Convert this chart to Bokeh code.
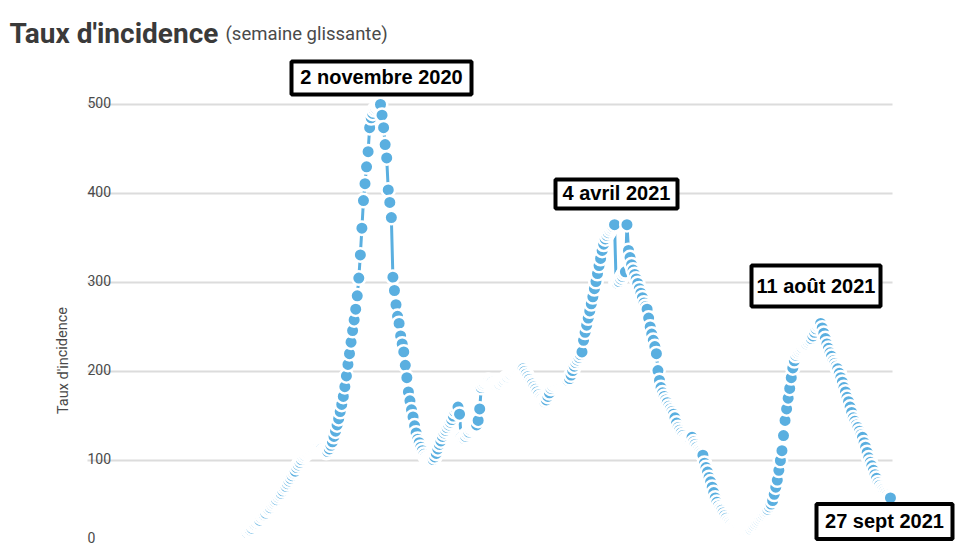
import pandas as pd
from bokeh.plotting import figure
from bokeh.models import Range1d, ColumnDataSource
from bokeh.core.properties import value
from bokeh.embed import file_html
from bokeh.resources import INLINE

# ---------------- data (daily sliding-week incidence rate) ----------------
start_date = "2020-08-08"
rate_aug_sep_2020 = [19, 21, 22, 24, 27, 28, 30, 32, 33, 36, 38, 39, 41, 44, 45, 47, 50, 52,
                     54, 56, 59, 61, 63, 66, 69, 71, 74, 77, 80, 83, 86, 88, 92, 95, 98, 101,
                     104, 106, 108, 109, 110, 111, 112, 113, 114, 115, 115, 114, 113, 111, 110, 109, 110]
rate_oct_2020 = [113, 117, 121, 127, 133, 140, 147, 155, 163, 172, 183, 195, 208, 220, 233, 246, 258,
                 270, 285, 305, 331, 361, 392, 411, 430, 447, 474, 485, 490, 494, 496, 498, 499, 500]
rate_nov_2020 = [488, 474, 455, 440, 404, 390, 373, 306, 291, 275, 262, 254, 240, 231, 222, 207, 193,
                 177, 167, 157, 149, 139, 131, 124, 120]
rate_dec_2020 = [115, 111, 107, 104, 102, 101, 100, 100, 101, 104, 108, 113, 118,
                 122, 127, 131, 134, 137, 140, 143, 146, 150, 155, 158, 160, 152, 126, 124, 125, 127,
                 130, 132, 135, 137, 138, 139, 140, 145, 158]
rate_jan_mar_2021 = [182, 185, 187, 189, 190, 190, 189, 188, 186, 185, 184, 185, 186, 188, 189, 191,
                     193, 194, 196, 197, 199, 200, 201, 202, 203, 204, 204, 203, 200, 197, 194, 191,
                     188, 186, 183, 180, 177, 174, 171, 169, 167, 166, 168, 172, 176, 181, 184, 186,
                     186, 187, 187, 188, 188, 189, 189, 190, 190, 192, 196, 201, 206, 210, 213, 216,
                     219, 222]
rate_mar_jun_2021 = [235, 244, 252, 260, 268, 276, 284, 293, 301, 310, 319, 327, 336, 343, 349, 353,
                     356, 359, 361, 363, 365, 300, 299, 301, 304, 307, 310, 312, 365,
                     336, 328, 320, 314, 309, 304, 299, 293, 288, 283, 277, 273, 270, 260, 250, 242,
                     235, 228, 220, 201, 190, 182, 176, 172, 168, 165, 161, 158, 155, 152, 148, 142,
                     137, 134, 131, 128, 125, 123, 122, 123, 124, 126, 121, 118, 115, 112, 110, 108,
                     106, 97, 92, 87, 81, 76, 70, 64, 58, 53, 49, 46, 44, 41, 38, 35, 32, 30, 28, 26,
                     25, 24, 23, 22, 21, 21, 20, 20, 21, 21, 22, 23, 25]
rate_jul_sep_2021 = [27, 29, 31, 33, 35, 37, 39, 41, 43, 45, 48, 51, 55, 62, 70, 78, 89, 100, 111,
                     128, 145, 158, 170, 181, 193, 204, 212, 218, 221, 223, 225, 227, 229, 230, 231,
                     233, 235, 237, 240, 244, 248, 251, 253,
                     254, 249, 243, 237, 231, 226, 221, 217, 212, 209, 206, 203, 198, 193, 188, 182,
                     177, 171, 166, 160, 154, 148, 144, 140, 137, 133, 129, 126, 120, 115, 109, 103,
                     98, 94, 89, 84, 80, 75, 72, 69, 67, 65, 63, 61, 59, 58]

y_ticks = [0, 100, 200, 300, 400, 500]
y_tick_labels = ["0", "100", "200", "300", "400", "500"]
note_texts = ["2 novembre 2020", "4 avril 2021", "11 août 2021", "27 sept 2021"]

rates = (rate_aug_sep_2020 + rate_oct_2020 + rate_nov_2020 + rate_dec_2020
         + rate_jan_mar_2021 + rate_mar_jun_2021 + rate_jul_sep_2021)
dates = pd.date_range(start_date, periods=len(rates), freq="D")

# ---------------- layout helpers (page pixel -> data) ----------------
DAY_MS = 86400000.0
T0 = pd.Timestamp("2020-11-02").value / 1e6
PX_PER_DAY = 1.55
X0_PAGE = 380.0
Y_ZERO_PAGE = 549.0
PX_PER_UNIT = 0.89


def px_x(px):
    return T0 + (px - X0_PAGE) / PX_PER_DAY * DAY_MS


def px_y(py):
    return (Y_ZERO_PAGE - py) / PX_PER_UNIT


W, H = 958, 546
p = figure(width=W, height=H, output_backend="svg", toolbar_location=None,
           x_range=Range1d(px_x(0), px_x(W)), y_range=Range1d(px_y(H), px_y(0)),
           min_border=0, x_axis_location=None, y_axis_location=None)
p.outline_line_color = None
p.grid.visible = False
p.background_fill_color = "white"
p.border_fill_color = "white"

BLUE = "#5aafe0"
TXT = "#4a4a4a"

# gridlines
n = len(y_ticks)
p.segment(x0=[px_x(87)] * n, x1=[px_x(892)] * n, y0=y_ticks, y1=y_ticks,
          line_color="#dcdcdc", line_width=2)
# tick labels (above lines)
tick_offsets = [-12, -2, -2, -2, -2, -2]
p.text(x=[px_x(87)] * n, y=y_ticks, text=y_tick_labels, text_font=value("Roboto"),
       text_font_size="14px", text_color=TXT, text_baseline="alphabetic", y_offset=tick_offsets)
# y axis title
p.text(x=[px_x(62.5)], y=[px_y(360)], text=["Taux d'incidence"], angle=1.5708,
       text_font=value("Roboto"), text_font_size="14.5px", text_color=TXT,
       text_align="center", text_baseline="middle")

# series
src = ColumnDataSource(dict(date=dates, rate=rates))
p.line("date", "rate", source=src, line_color=BLUE, line_width=3)
p.scatter("date", "rate", source=src, size=13.5, fill_color=BLUE,
          line_color="white", line_width=2.5)

# title
p.text(x=[px_x(9)], y=[px_y(33)], text=["Taux d'incidence"], text_font=value("Roboto"),
       text_font_style="bold", text_font_size="28px", text_color="#3a3a3a",
       text_baseline="alphabetic")
p.text(x=[px_x(225)], y=[px_y(33)], text=["(semaine glissante)"], text_font=value("Roboto"),
       text_font_size="18.5px", text_color=TXT, text_baseline="alphabetic")

# annotation boxes
box_cx = [381, 616, 815.5, 884]
box_cy = [77.5, 193.5, 285.5, 521]
box_w = [180, 122, 129, 136]
box_h = [33, 29, 41, 35]
text_cy = [76, 192, 285, 520]
p.rect(x=[px_x(v) for v in box_cx], y=[px_y(v) for v in box_cy], width=box_w, height=box_h,
       width_units="screen", height_units="screen", fill_color="white",
       line_color="black", line_width=4)
p.text(x=[px_x(v) for v in box_cx], y=[px_y(v) for v in text_cy], text=note_texts,
       text_font=value("Liberation Sans"), text_font_style="bold", text_font_size="20px",
       text_color="black", text_align="center", text_baseline="middle")

open("out.html", "w").write(file_html(p, INLINE))
